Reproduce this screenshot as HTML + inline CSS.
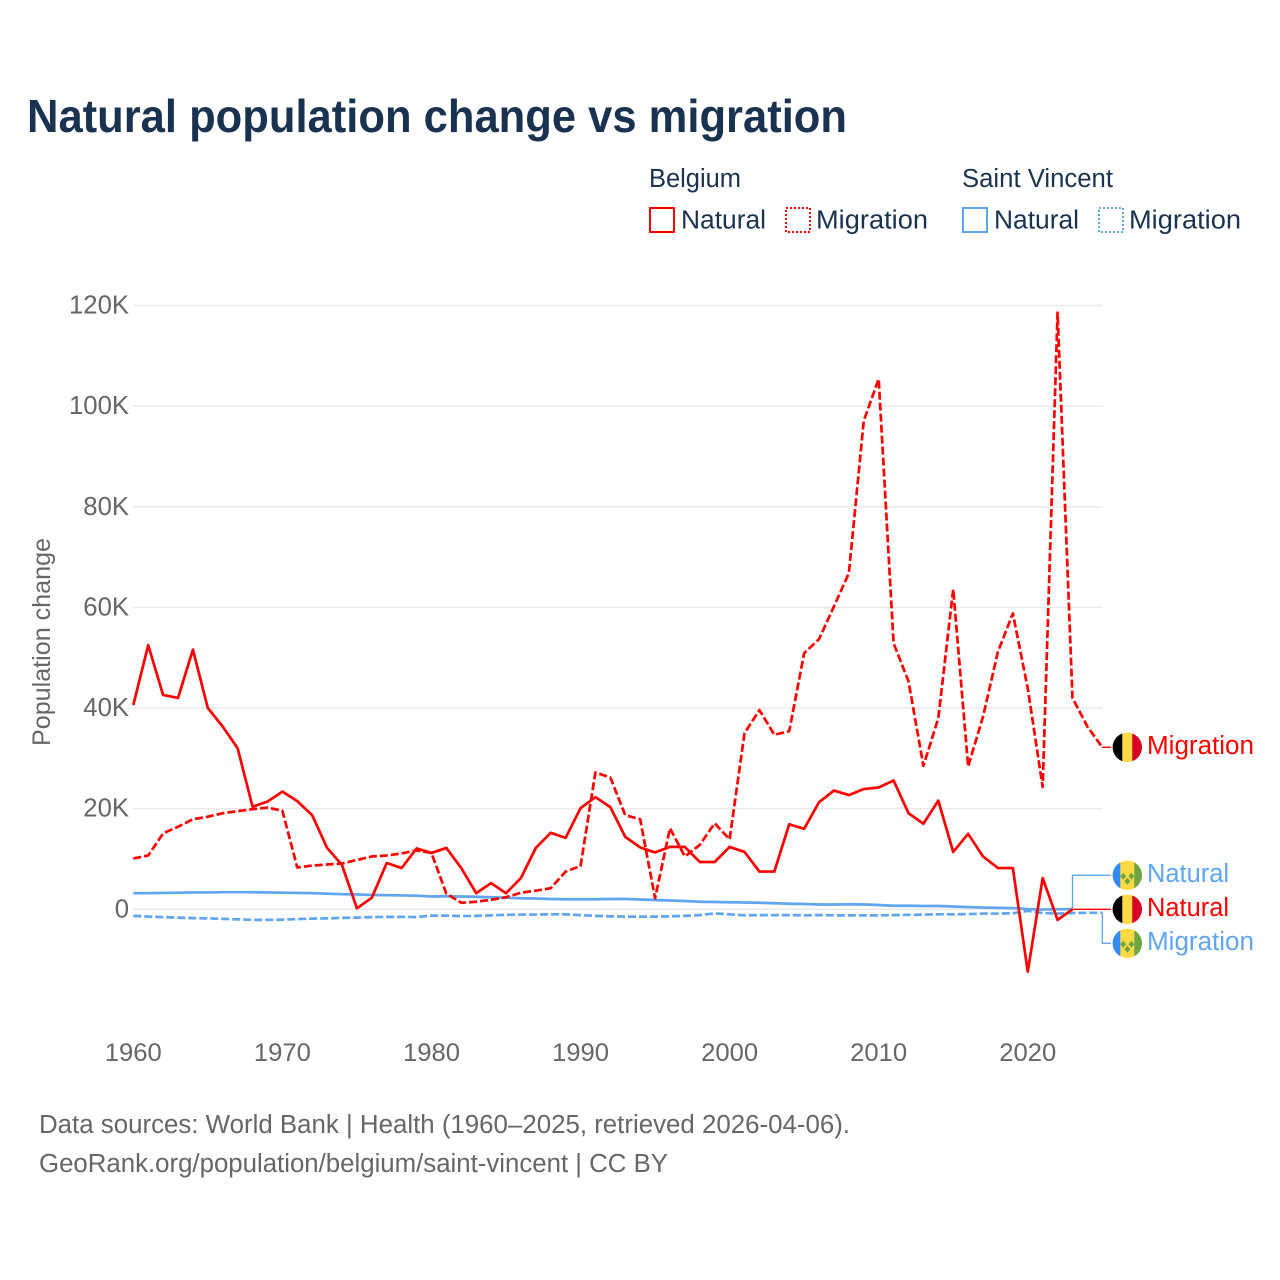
<!DOCTYPE html>
<html lang="en">
<head>
<meta charset="utf-8">
<title>Natural population change vs migration</title>
<style>
html,body{margin:0;padding:0;background:#fff;}
svg{display:block;font-family:"Liberation Sans",sans-serif;}
.leg{font-size:25.5px;fill:#18324f;}
.tick{font-size:25px;fill:#666;}
.foot{font-size:25.5px;fill:#666;}
.end{font-size:25.5px;}
</style>
</head>
<body>
<svg id="chart" xmlns="http://www.w3.org/2000/svg" width="1280" height="1280" viewBox="0 0 1280 1280">
<defs>
<clipPath id="flag-clip"><circle cx="0" cy="0" r="14.7"/></clipPath>
<g id="flag-be"><g clip-path="url(#flag-clip)"><rect x="-15" y="-15" width="30" height="30" fill="#ffda44"/><rect x="-15" y="-15" width="10" height="30" fill="#000"/><rect x="5" y="-15" width="10" height="30" fill="#d80027"/></g></g>
<g id="flag-vc"><g clip-path="url(#flag-clip)"><rect x="-15" y="-15" width="30" height="30" fill="#ffda44"/><rect x="-15" y="-15" width="8" height="30" fill="#338af3"/><rect x="7" y="-15" width="8" height="30" fill="#6da544"/><path d="M-4.200-0.500l-3 3.500 3 3.500 3-3.500zM4-0.500l-3 3.500 3 3.500 3-3.500zM0 4.500l-3 3.500 3 3.500 3-3.500z" fill="#6da544" transform="translate(0.100,-2)"/></g></g>
</defs>
<rect width="1280" height="1280" fill="#fff"/>
<text x="27" y="132" font-size="46.500" font-weight="700" fill="#18324f" textLength="820" lengthAdjust="spacingAndGlyphs">Natural population change vs migration</text>

<g>
<text class="leg" x="649" y="187" textLength="92" lengthAdjust="spacingAndGlyphs">Belgium</text>
<text class="leg" x="962" y="187" textLength="151" lengthAdjust="spacingAndGlyphs">Saint Vincent</text>
<g>
<rect x="650" y="208" width="24" height="24" fill="none" stroke="#ff0000" stroke-width="2"/>
<text class="leg" x="681" y="228.500" textLength="85" lengthAdjust="spacingAndGlyphs">Natural</text>
</g>
<g>
<rect x="786" y="208" width="24" height="24" fill="none" stroke="#ff0000" stroke-width="2" stroke-dasharray="2 2"/>
<text class="leg" x="816" y="228.500" textLength="112" lengthAdjust="spacingAndGlyphs">Migration</text>
</g>
<g>
<rect x="963" y="208" width="24" height="24" fill="none" stroke="#60a5ef" stroke-width="2"/>
<text class="leg" x="994" y="228.500" textLength="85" lengthAdjust="spacingAndGlyphs">Natural</text>
</g>
<g>
<rect x="1099" y="208" width="24" height="24" fill="none" stroke="#60a5ef" stroke-width="2" stroke-dasharray="2 2"/>
<text class="leg" x="1129" y="228.500" textLength="112" lengthAdjust="spacingAndGlyphs">Migration</text>
</g>
</g>

<g id="grid"></g>
<g id="y-ticks"></g>
<g id="x-ticks"></g>
<text class="tick" transform="translate(50,746) rotate(-90)" textLength="208" lengthAdjust="spacingAndGlyphs">Population change</text>
<g id="connectors"></g>
<g id="series"></g>

<g>
<use href="#flag-be" x="1127.300" y="747.300"/>
<text class="end" fill="#ff0000" x="1147" y="754" textLength="107" lengthAdjust="spacingAndGlyphs">Migration</text>
</g>
<g>
<use href="#flag-vc" x="1127.300" y="875.300"/>
<text class="end" fill="#60a5ef" x="1147" y="882" textLength="82" lengthAdjust="spacingAndGlyphs">Natural</text>
</g>
<g>
<use href="#flag-be" x="1127.300" y="909.300"/>
<text class="end" fill="#ff0000" x="1147" y="916" textLength="82" lengthAdjust="spacingAndGlyphs">Natural</text>
</g>
<g>
<use href="#flag-vc" x="1127.300" y="943.300"/>
<text class="end" fill="#60a5ef" x="1147" y="950" textLength="107" lengthAdjust="spacingAndGlyphs">Migration</text>
</g>

<text class="foot" x="39" y="1133" textLength="811" lengthAdjust="spacingAndGlyphs">Data sources: World Bank | Health (1960–2025, retrieved 2026-04-06).</text>
<text class="foot" x="39" y="1172" textLength="629" lengthAdjust="spacingAndGlyphs">GeoRank.org/population/belgium/saint-vincent | CC BY</text>
</svg>
<script>
const years = [1960,1961,1962,1963,1964,1965,1966,1967,1968,1969,1970,1971,1972,1973,1974,1975,1976,1977,1978,1979,1980,1981,1982,1983,1984,1985,1986,1987,1988,1989,1990,1991,1992,1993,1994,1995,1996,1997,1998,1999,2000,2001,2002,2003,2004,2005,2006,2007,2008,2009,2010,2011,2012,2013,2014,2015,2016,2017,2018,2019,2020,2021,2022,2023,2024,2025];
const belgiumNatural = [40600,52500,42600,42000,51600,40000,36300,32000,20400,21400,23400,21500,18700,12200,8800,200,2300,9200,8200,12100,11200,12200,8200,3200,5200,3200,6200,12200,15200,14200,20100,22300,20300,14400,12300,11300,12400,12400,9400,9400,12400,11400,7500,7500,16900,16000,21300,23600,22700,23900,24200,25600,19100,17000,21600,11400,15000,10500,8200,8200,-12400,6200,-2100,0,null,null];
const belgiumMigration = [10100,10700,15100,16400,17900,18400,19100,19500,19900,20200,19600,8300,8700,8900,9100,9800,10500,10700,11100,11700,11200,3100,1300,1500,1900,2400,3300,3700,4200,7500,8600,27200,26200,18700,17900,2200,16100,10500,12800,17100,13900,35000,39600,34700,35400,50900,53700,60200,66800,97100,105400,52900,45300,28500,38000,63600,28400,38300,51200,58800,43900,24300,118600,42000,36300,32200];
const stVincentNatural = [3200,3200,3250,3300,3350,3350,3400,3400,3400,3350,3300,3250,3200,3100,3000,2950,2850,2800,2750,2700,2550,2600,2550,2500,2400,2300,2200,2150,2050,2000,2000,2000,2050,2050,1950,1850,1750,1650,1500,1450,1400,1350,1300,1200,1100,1050,950,950,1000,950,850,700,700,650,650,550,450,350,300,250,50,-50,0,50,null,null];
const stVincentMigration = [-1300,-1450,-1550,-1650,-1750,-1800,-1900,-2000,-2100,-2100,-2050,-1950,-1850,-1800,-1700,-1650,-1550,-1500,-1500,-1550,-1250,-1250,-1350,-1300,-1200,-1100,-1050,-1050,-1000,-1000,-1150,-1300,-1400,-1450,-1450,-1450,-1400,-1300,-1150,-800,-1000,-1200,-1150,-1150,-1150,-1200,-1150,-1200,-1200,-1200,-1200,-1150,-1100,-1050,-1000,-1000,-950,-850,-850,-800,-300,-750,-850,-750,-700,-700];
const yTickValues = [0,20000,40000,60000,80000,100000,120000];
const yTickLabels = ["0","20K","40K","60K","80K","100K","120K"];
const xTickValues = [1960,1970,1980,1990,2000,2010,2020];
const xTickLabels = ["1960","1970","1980","1990","2000","2010","2020"];

const SVGNS = "http://www.w3.org/2000/svg";
const RED = "#ff0000";
const BLUE = "#60a5ef";
function xScale(year){ return 133.3 + (year - 1960) * (1102.3 - 133.3) / 65; }
function yScale(value){ return 909.3 - value * (909.3 - 305.5) / 120000; }
function make(tag, parentId){
  const el = document.createElementNS(SVGNS, tag);
  document.getElementById(parentId).appendChild(el);
  return el;
}
function lastIndex(values){
  let i = values.length - 1;
  while (values[i] === null) i--;
  return i;
}
function linePoints(values){
  const pts = [];
  values.forEach(function(v, i){
    if (v !== null) pts.push(xScale(years[i]).toFixed(2) + "," + yScale(v).toFixed(2));
  });
  return pts.join(" ");
}
function drawLine(values, color, dashed){
  const el = make("polyline", "series");
  el.setAttribute("points", linePoints(values));
  el.setAttribute("fill", "none");
  el.setAttribute("stroke", color);
  el.setAttribute("stroke-width", "2.7");
  el.setAttribute("stroke-linejoin", "round");
  if (dashed) el.setAttribute("stroke-dasharray", "8 3");
  return el;
}
function drawConnector(values, labelY, color){
  const i = lastIndex(values);
  const x = xScale(years[i]);
  const y = yScale(values[i]);
  const el = make("polyline", "connectors");
  el.setAttribute("points", x + "," + y + " " + x + "," + labelY + " 1111," + labelY);
  el.setAttribute("fill", "none");
  el.setAttribute("stroke", color);
  el.setAttribute("stroke-width", "1.3");
  return el;
}

yTickValues.forEach(function(v, i){
  const line = make("line", "grid");
  
  
  line.setAttribute("x1", "133");
  line.setAttribute("x2", "1102.5");
  line.setAttribute("y1", yScale(v));
  line.setAttribute("y2", yScale(v));
  line.setAttribute("stroke", "#eaeaea");
  line.setAttribute("stroke-width", "1.5");
  const label = make("text", "y-ticks");
  
  
  label.setAttribute("class", "tick");
  label.setAttribute("font-size", "25.5");
  label.style.fontSize = "25.7px";
  label.setAttribute("x", "129");
  label.setAttribute("y", yScale(v) + 8);
  label.setAttribute("text-anchor", "end");
  label.textContent = yTickLabels[i];
});
xTickValues.forEach(function(v, i){
  const label = make("text", "x-ticks");
  
  
  label.setAttribute("class", "tick");
  label.setAttribute("x", xScale(v));
  label.setAttribute("y", "1061");
  label.setAttribute("text-anchor", "middle");
  label.setAttribute("textLength", "57");
  label.setAttribute("lengthAdjust", "spacingAndGlyphs");
  label.textContent = xTickLabels[i];
});

const connectorBelgiumMigration = drawConnector(belgiumMigration, 747.3, RED);


const connectorVincentNatural = drawConnector(stVincentNatural, 875.3, BLUE);


const connectorBelgiumNatural = drawConnector(belgiumNatural, 909.3, RED);


const connectorVincentMigration = drawConnector(stVincentMigration, 943.3, BLUE);



const lineVincentMigration = drawLine(stVincentMigration, BLUE, true);


const lineVincentNatural = drawLine(stVincentNatural, BLUE, false);


const lineBelgiumMigration = drawLine(belgiumMigration, RED, true);


const lineBelgiumNatural = drawLine(belgiumNatural, RED, false);


</script>
</body>
</html>
